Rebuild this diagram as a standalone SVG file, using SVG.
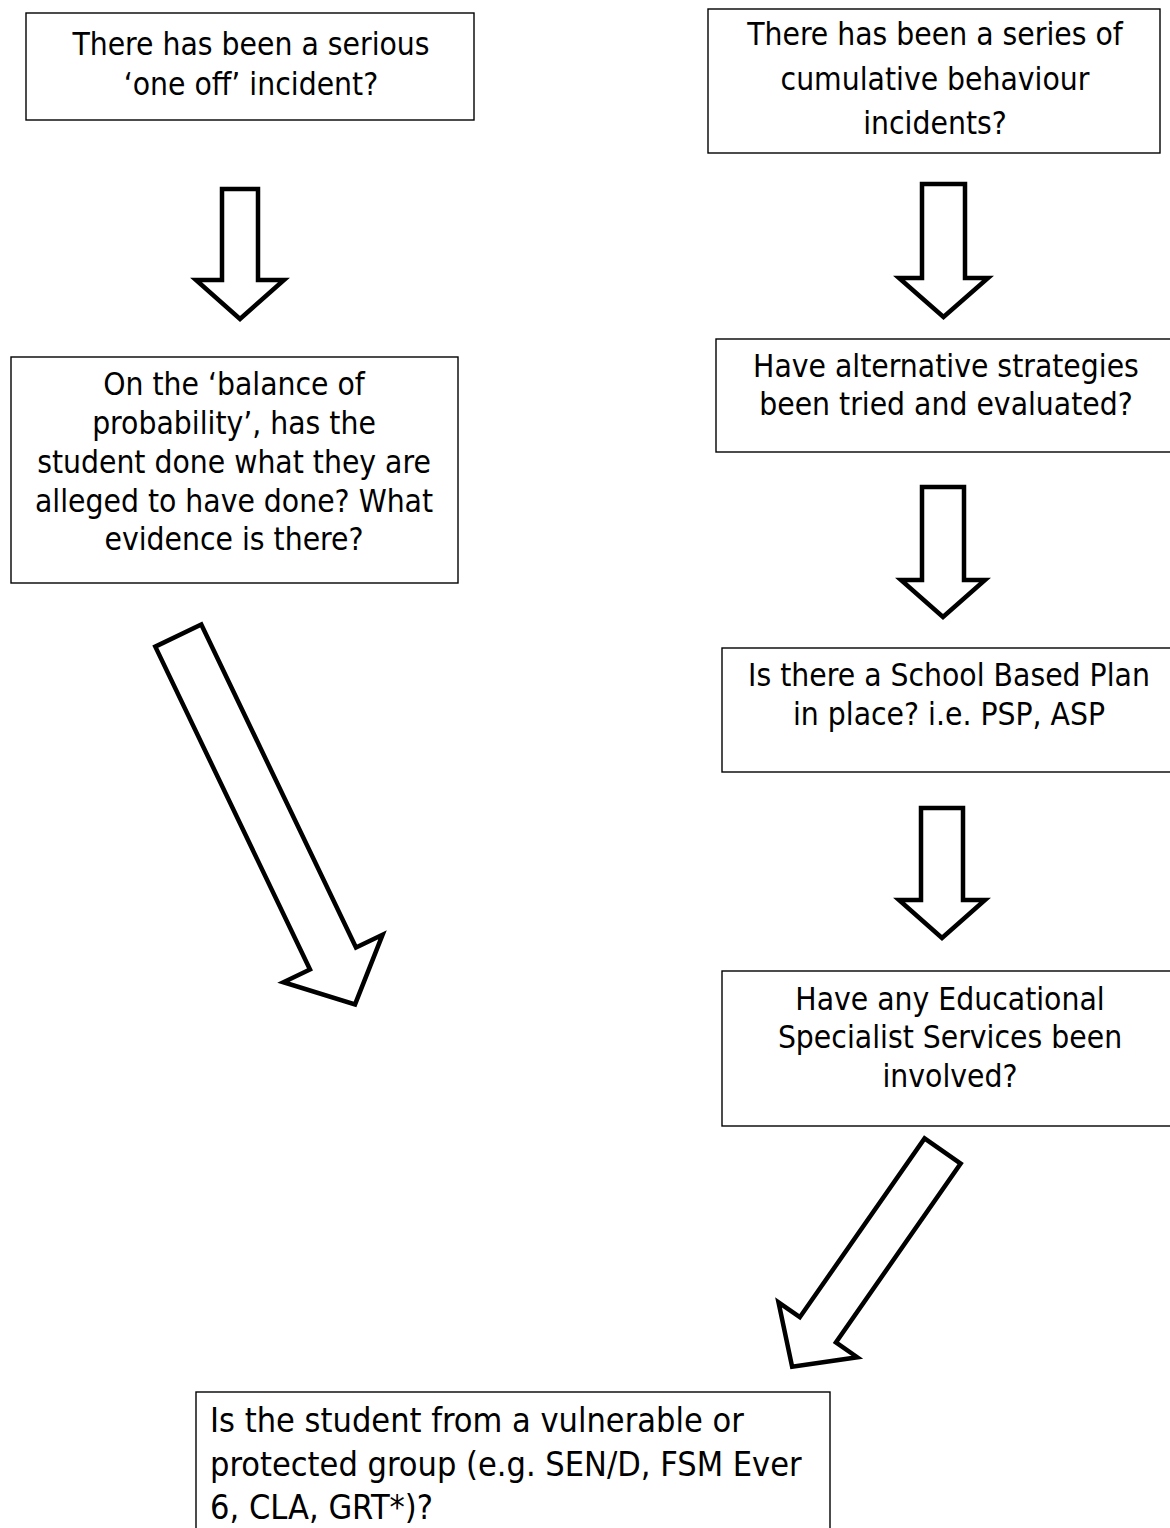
<svg xmlns="http://www.w3.org/2000/svg" width="1170" height="1528" viewBox="0 0 1170 1528">
<style>
.box{fill:#fff;stroke:#000;stroke-width:1.4}
.arrow{fill:#fff;stroke:#000;stroke-width:4.5;stroke-linejoin:miter;stroke-miterlimit:10}
.t{font-family:'DejaVu Sans Condensed','DejaVu Sans',sans-serif;font-stretch:condensed;font-size:31.5px;fill:#000}
.c{text-anchor:middle}
.big{font-size:34px}
</style>
<rect width="1170" height="1528" fill="#fff"/>
<g id="connectors">
<polygon class="arrow" points="222,189 258,189 258,280 284,280 240,319 196,280 222,280"/>
<polygon class="arrow" points="922,184 965,184 965,278 988,278 943.5,317 899,278 922,278"/>
<polygon class="arrow" points="922,487 964,487 964,580 985,580 943,617 901,580 922,580"/>
<polygon class="arrow" points="921,808 963,808 963,900 985,900 942,938 899,900 921,900"/>
<polygon class="arrow" transform="translate(178.3,635.6) rotate(-25.6)" points="-25.5,0 25.5,0 25.5,358 55,358 0,409 -55,358 -25.5,358"/>
<polygon class="arrow" transform="translate(942.6,1151) rotate(34.9)" points="-22,0 22,0 22,218 48,218 0,263 -48,218 -22,218"/>
</g>
<g id="node1">
<rect class="box" x="26" y="13" width="448" height="107"/>
<text class="t c" x="251" y="55">There has been a serious</text>
<text class="t c" x="251" y="95">‘one off’ incident?</text>
</g>
<g id="node2">
<rect class="box" x="708" y="9" width="452" height="144"/>
<text class="t c" x="935" y="45">There has been a series of</text>
<text class="t c" x="935" y="90">cumulative behaviour</text>
<text class="t c" x="935" y="134">incidents?</text>
</g>
<g id="node3">
<rect class="box" x="11" y="357" width="447" height="226"/>
<text class="t c" x="234" y="395">On the ‘balance of</text>
<text class="t c" x="234" y="434">probability’, has the</text>
<text class="t c" x="234" y="473">student done what they are</text>
<text class="t c" x="234" y="512">alleged to have done? What</text>
<text class="t c" x="234" y="550">evidence is there?</text>
</g>
<g id="node4">
<rect class="box" x="716" y="339" width="460" height="113"/>
<text class="t c" x="946" y="377">Have alternative strategies</text>
<text class="t c" x="946" y="415">been tried and evaluated?</text>
</g>
<g id="node5">
<rect class="box" x="722" y="648" width="454" height="124"/>
<text class="t c" x="949" y="686">Is there a School Based Plan</text>
<text class="t c" x="949" y="725">in place? i.e. PSP, ASP</text>
</g>
<g id="node6">
<rect class="box" x="722" y="971" width="454" height="155"/>
<text class="t c" x="950" y="1010">Have any Educational</text>
<text class="t c" x="950" y="1048">Specialist Services been</text>
<text class="t c" x="950" y="1087">involved?</text>
</g>
<g id="node7">
<rect class="box" x="196" y="1392" width="634" height="160"/>
<text class="t big" x="210" y="1432">Is the student from a vulnerable or</text>
<text class="t big" x="210" y="1476">protected group (e.g. SEN/D, FSM Ever</text>
<text class="t big" x="210" y="1519">6, CLA, GRT*)?</text>
</g>
</svg>
